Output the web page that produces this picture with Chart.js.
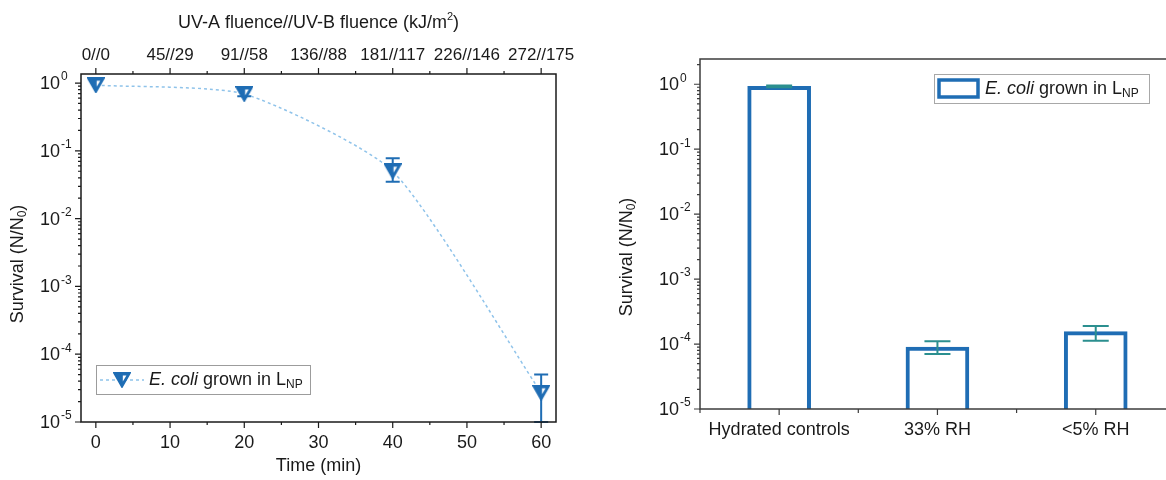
<!DOCTYPE html>
<html lang="en">
<head>
<meta charset="UTF-8">
<title>E. coli survival</title>
<script src="https://cdn.jsdelivr.net/npm/chart.js"></script>
<style>
  html, body { margin: 0; padding: 0; background: #fff; overflow: hidden; }
  #wrap { position: relative; width: 1166px; height: 480px; overflow: hidden; }
  #uvChart { position: absolute; left: 0; top: 0; }
  #dryChart { position: absolute; left: 580px; top: 0; }
</style>
</head>
<body>
<div id="wrap">
  <canvas id="uvChart" width="580" height="480"></canvas>
  <canvas id="dryChart" width="660" height="480"></canvas>
</div>
<script>
// UV exposure: survival vs. time
const timeMin = [0, 20, 40, 60];
const survivalUV = [0.93, 0.69, 0.050, 2.7e-5];
const survivalUVHigh = [null, 0.84, 0.078, 5.0e-5];
const survivalUVLow = [null, 0.64, 0.035, 1.0e-5];
const timeTicks = [0, 10, 20, 30, 40, 50, 60];
const fluenceLabels = ['0//0', '45//29', '91//58', '136//88', '181//117', '226//146', '272//175'];

// desiccation: survival per condition
const conditions = ['Hydrated controls', '33% RH', '<5% RH'];
const survivalDry = [0.93, 9.0e-5, 1.55e-4];
const survivalDryHigh = [0.96, 1.1e-4, 1.9e-4];
const survivalDryLow = [0.90, 7.0e-5, 1.12e-4];

// log axis labels, 10^n
const decadeExps = [-5, -4, -3, -2, -1, 0];

const FONT = '"Liberation Sans", Arial, Helvetica, sans-serif';
const BLUE = '#1f6db4';
const LIGHT_BLUE = '#8fc3ea';
const TEAL = '#2b8f8f';
const INK = '#1a1a1a';

function font(size, italic) {
    return (italic ? 'italic ' : '') + size + 'px ' + FONT;
}

// draws a run of text pieces (for italics, super- and subscripts)
function richText(ctx, parts, x, y, align) {
    ctx.save();
    ctx.textBaseline = 'middle';
    ctx.textAlign = 'left';
    let w = 0;
    parts.forEach(p => {
        ctx.font = font(p.size || 18, p.italic);
        w += ctx.measureText(p.text).width;
    });
    let cx = align === 'center' ? x - w / 2 : align === 'right' ? x - w : x;
    parts.forEach(p => {
        ctx.font = font(p.size || 18, p.italic);
        ctx.fillText(p.text, cx, y + (p.dy || 0));
        cx += ctx.measureText(p.text).width;
    });
    ctx.restore();
}

function rotatedText(ctx, parts, x, y) {
    ctx.save();
    ctx.translate(x, y);
    ctx.rotate(-Math.PI / 2);
    richText(ctx, parts, 0, 0, 'center');
    ctx.restore();
}

const survivalTitle = [
    { text: 'Survival (N/N' },
    { text: '0', size: 12, dy: 5 },
    { text: ')' }
];
const legendLabel = [
    { text: 'E. coli', italic: true },
    { text: ' grown in L' },
    { text: 'NP', size: 12, dy: 5 }
];

// down triangle with a small light notch, used as the point symbol
function makeSymbol() {
    const c = document.createElement('canvas');
    c.width = 18;
    c.height = 16;
    const g = c.getContext('2d');
    g.fillStyle = BLUE;
    g.strokeStyle = BLUE;
    g.lineWidth = 1.5;
    g.beginPath();
    g.moveTo(0.75, 0.75);
    g.lineTo(17.25, 0.75);
    g.lineTo(9, 15.25);
    g.closePath();
    g.fill();
    g.stroke();
    g.fillStyle = '#ffffff';
    g.beginPath();
    g.moveTo(9.8, 3.6);
    g.lineTo(13.4, 3.6);
    g.lineTo(9.8, 9.6);
    g.closePath();
    g.fill();
    return c;
}
const triSymbol = makeSymbol();

// y axis with decade labels and 2..9 minor ticks
function drawLogAxis(ctx, scale, x0, color) {
    ctx.save();
    ctx.strokeStyle = color;
    ctx.lineWidth = 1.2;
    ctx.beginPath();
    const lo = Math.floor(Math.log10(scale.min));
    const hi = Math.ceil(Math.log10(scale.max));
    for (let d = lo; d <= hi; d++) {
        for (let m = 1; m <= 9; m++) {
            const v = m * Math.pow(10, d);
            if (v < scale.min * 0.999 || v > scale.max * 1.001) continue;
            const y = scale.getPixelForValue(v);
            const len = m === 1 ? 6 : 3;
            ctx.moveTo(x0 - len, y);
            ctx.lineTo(x0, y);
        }
    }
    ctx.stroke();
    ctx.fillStyle = INK;
    decadeExps.forEach(e => {
        const y = scale.getPixelForValue(Math.pow(10, e));
        richText(ctx, [{ text: '10' }], x0 - 21, y + 1, 'right');
        richText(ctx, [{ text: String(e), size: 12 }], x0 - 20, y - 6, 'left');
    });
    ctx.restore();
}

function errorBar(ctx, x, yHi, yLo, half) {
    ctx.beginPath();
    ctx.moveTo(x, yHi); ctx.lineTo(x, yLo);
    ctx.moveTo(x - half, yHi); ctx.lineTo(x + half, yHi);
    ctx.moveTo(x - half, yLo); ctx.lineTo(x + half, yLo);
    ctx.stroke();
}

const uvDecor = {
    id: 'uvDecor',
    beforeDatasetsDraw(chart) {
        const { ctx, scales: { x, y } } = chart;
        ctx.save();
        ctx.strokeStyle = BLUE;
        ctx.lineWidth = 2;
        timeMin.forEach((t, i) => {
            if (survivalUVHigh[i] == null) return;
            errorBar(ctx, x.getPixelForValue(t),
                y.getPixelForValue(survivalUVHigh[i]),
                y.getPixelForValue(survivalUVLow[i]), 7);
        });
        ctx.restore();
    },
    afterDraw(chart) {
        const { ctx, chartArea: a, scales: { x, y } } = chart;
        ctx.save();
        ctx.strokeStyle = INK;
        ctx.lineWidth = 1.5;
        ctx.strokeRect(a.left, a.top, a.right - a.left, a.bottom - a.top);

        // time ticks below, fluence ticks above
        ctx.lineWidth = 1.2;
        ctx.beginPath();
        timeTicks.forEach((t, i) => {
            const px = x.getPixelForValue(t);
            ctx.moveTo(px, a.bottom); ctx.lineTo(px, a.bottom + 6);
            ctx.moveTo(px, a.top); ctx.lineTo(px, a.top - 6);
            if (i < timeTicks.length - 1) {
                const mx = x.getPixelForValue((t + timeTicks[i + 1]) / 2);
                ctx.moveTo(mx, a.bottom); ctx.lineTo(mx, a.bottom + 3);
                ctx.moveTo(mx, a.top); ctx.lineTo(mx, a.top - 3);
            }
        });
        ctx.stroke();
        ctx.fillStyle = INK;
        timeTicks.forEach((t, i) => {
            const px = x.getPixelForValue(t);
            richText(ctx, [{ text: String(t) }], px, a.bottom + 21, 'center');
            richText(ctx, [{ text: fluenceLabels[i], size: 17 }], px, a.top - 19, 'center');
        });
        drawLogAxis(ctx, y, a.left, INK);

        const cx = (a.left + a.right) / 2;
        richText(ctx, [{ text: 'Time (min)' }], cx, 466, 'center');
        richText(ctx, [
            { text: 'UV-A fluence//UV-B fluence (kJ/m' },
            { text: '2', size: 11, dy: -6 },
            { text: ')' }
        ], cx, 23, 'center');
        rotatedText(ctx, survivalTitle, 18, 264);

        // legend
        ctx.strokeStyle = '#9c9c9c';
        ctx.lineWidth = 1;
        ctx.strokeRect(96.5, 365.5, 214, 29);
        ctx.strokeStyle = LIGHT_BLUE;
        ctx.lineWidth = 1.5;
        ctx.setLineDash([3, 3]);
        ctx.beginPath();
        ctx.moveTo(100, 380); ctx.lineTo(144, 380);
        ctx.stroke();
        ctx.setLineDash([]);
        ctx.drawImage(triSymbol, 122 - 9, 380 - 8);
        ctx.fillStyle = INK;
        richText(ctx, legendLabel, 149, 380, 'left');
        ctx.restore();
    }
};

const dryDecor = {
    id: 'dryDecor',
    afterDatasetsDraw(chart) {
        const { ctx, scales: { x, y } } = chart;
        ctx.save();
        ctx.strokeStyle = TEAL;
        ctx.lineWidth = 2;
        conditions.forEach((c, i) => {
            errorBar(ctx, x.getPixelForValue(i + 1),
                y.getPixelForValue(survivalDryHigh[i]),
                y.getPixelForValue(survivalDryLow[i]), 13);
        });
        ctx.restore();
    },
    afterDraw(chart) {
        const { ctx, chartArea: a, scales: { x, y } } = chart;
        ctx.save();
        ctx.strokeStyle = '#3c3c3c';
        ctx.lineWidth = 1.5;
        ctx.strokeRect(a.left, a.top, a.right - a.left, a.bottom - a.top);

        ctx.lineWidth = 1.2;
        ctx.beginPath();
        for (let i = 0; i <= conditions.length; i++) {
            const mx = x.getPixelForValue(i + 0.5);
            ctx.moveTo(mx, a.bottom); ctx.lineTo(mx, a.bottom + 4);
        }
        conditions.forEach((c, i) => {
            const px = x.getPixelForValue(i + 1);
            ctx.moveTo(px, a.bottom); ctx.lineTo(px, a.bottom + 6);
        });
        ctx.stroke();
        ctx.fillStyle = INK;
        conditions.forEach((c, i) => {
            richText(ctx, [{ text: c }], x.getPixelForValue(i + 1), a.bottom + 21, 'center');
        });
        drawLogAxis(ctx, y, a.left, '#3c3c3c');
        rotatedText(ctx, survivalTitle, 47, 257);

        // legend
        ctx.strokeStyle = '#a8a8a8';
        ctx.lineWidth = 1;
        ctx.strokeRect(354.5, 74.5, 215, 29);
        ctx.fillStyle = '#fff';
        ctx.strokeStyle = BLUE;
        ctx.lineWidth = 3.5;
        ctx.fillRect(359, 80, 39, 17);
        ctx.strokeRect(359, 80, 39, 17);
        ctx.fillStyle = INK;
        richText(ctx, legendLabel, 405, 89, 'left');
        ctx.restore();
    }
};

const hidden = { display: false };

new Chart(document.getElementById('uvChart'), {
    type: 'line',
    data: {
        datasets: [{
            data: timeMin.map((t, i) => ({ x: t, y: survivalUV[i] })),
            borderColor: LIGHT_BLUE,
            borderWidth: 1.5,
            borderDash: [3, 3],
            tension: 0.2,
            fill: false,
            pointStyle: triSymbol,
            pointRadius: 9,
            pointHoverRadius: 9
        }]
    },
    options: {
        responsive: false,
        animation: false,
        events: [],
        layout: { padding: { left: 81, top: 74, right: 24, bottom: 58 } },
        plugins: { legend: hidden, tooltip: { enabled: false } },
        scales: {
            x: { type: 'linear', min: -2, max: 62, display: false },
            y: { type: 'logarithmic', min: 1e-5, max: 1.36, display: false }
        }
    },
    plugins: [uvDecor]
});

new Chart(document.getElementById('dryChart'), {
    type: 'bar',
    data: {
        datasets: [{
            data: conditions.map((c, i) => ({ x: i + 1, y: survivalDry[i] })),
            backgroundColor: '#ffffff',
            borderColor: BLUE,
            borderWidth: 4,
            borderSkipped: 'start',
            barThickness: 63
        }]
    },
    options: {
        responsive: false,
        animation: false,
        events: [],
        layout: { padding: { left: 120, top: 59, right: 20, bottom: 71 } },
        plugins: { legend: hidden, tooltip: { enabled: false } },
        scales: {
            x: { type: 'linear', min: 0.5, max: 3.785, offset: false, display: false },
            y: { type: 'logarithmic', min: 1e-5, max: 2.45, display: false }
        }
    },
    plugins: [dryDecor]
});
</script>
</body>
</html>
